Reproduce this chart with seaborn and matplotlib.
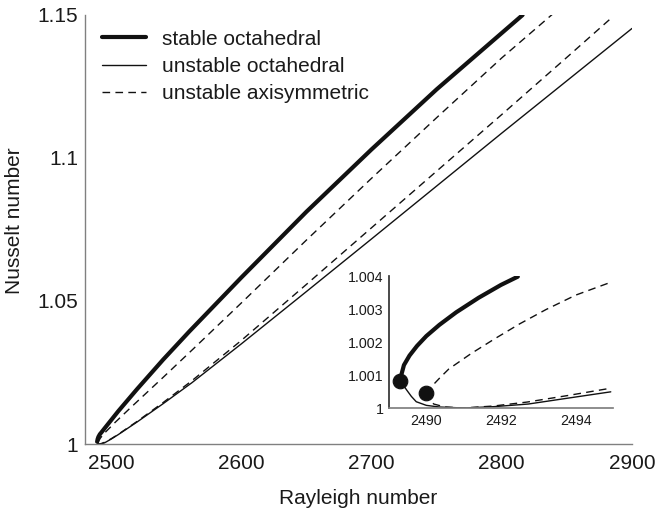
import matplotlib
matplotlib.use("Agg")
import matplotlib.pyplot as plt
import seaborn as sns
import numpy as np

sns.set_theme(style="white")
plt.rcParams['font.family'] = ['Liberation Sans', 'DejaVu Sans']

# ---- main plot data ----
stable_oct_ra = [2489.3, 2489.7, 2490.3, 2491.4, 2492.5, 2495, 2500, 2505.6, 2520, 2540, 2560, 2600, 2650, 2700, 2750, 2816]
stable_oct_nu = [1.0008, 1.0017, 1.0025, 1.0034, 1.0040, 1.00545, 1.0083, 1.0115, 1.0192, 1.0295, 1.0393, 1.0582, 1.0812, 1.1030, 1.1240, 1.1500]

unst_oct_ra = [2489.3, 2489.7, 2490.3, 2491, 2492.7, 2495, 2500, 2505.6, 2520, 2540, 2562, 2600, 2650, 2700, 2750, 2800, 2850, 2900]
unst_oct_nu = [1.0008, 1.0002, 1.00004, 1.0000, 1.00012, 1.0004, 1.0017, 1.0033, 1.0077, 1.0141, 1.0214, 1.0350, 1.0533, 1.0717, 1.0902, 1.1087, 1.1270, 1.1453]

axi_up_ra = [2490.0, 2490.35, 2491.85, 2494.94, 2503, 2515, 2540, 2563, 2600, 2650, 2700, 2750, 2800, 2839]
axi_up_nu = [1.00046, 1.0009, 1.0021, 1.0038, 1.0075, 1.0127, 1.0233, 1.0332, 1.0493, 1.0713, 1.0929, 1.1141, 1.1350, 1.1503]

axi_lo_ra = [2490.0, 2490.5, 2491.0, 2492.7, 2495, 2500, 2505.6, 2520, 2540, 2562, 2600, 2650, 2700, 2750, 2800, 2850, 2883]
axi_lo_nu = [1.00046, 1.00003, 1.0000, 1.00018, 1.0006, 1.0018, 1.0034, 1.0079, 1.0145, 1.0221, 1.0362, 1.0558, 1.0756, 1.0954, 1.1152, 1.1352, 1.1485]

# ---- inset data ----
in_stable_ra = [2489.29, 2489.4, 2489.55, 2489.75, 2490.0, 2490.35, 2490.8, 2491.4, 2492.0, 2492.45]
in_stable_nu = [1.00083, 1.00130, 1.00159, 1.00188, 1.00218, 1.00252, 1.00290, 1.00334, 1.00373, 1.00398]

in_unst_ra = [2489.29, 2489.38, 2489.47, 2489.6, 2489.73, 2490.0, 2490.35, 2491.0, 2491.8, 2492.73, 2493.8, 2494.94]
in_unst_nu = [1.00083, 1.00070, 1.00055, 1.00035, 1.00019, 1.00008, 1.00003, 1.00000, 1.00004, 1.00012, 1.00030, 1.00049]

in_axi_up_ra = [2489.98, 2490.35, 2490.6, 2491.2, 2491.85, 2492.5, 2493.2, 2494.0, 2494.94]
in_axi_up_nu = [1.00046, 1.00090, 1.00118, 1.00165, 1.00211, 1.00255, 1.00298, 1.00342, 1.00381]

in_axi_lo_ra = [2489.98, 2490.08, 2490.2, 2490.5, 2491.0, 2491.8, 2492.7, 2493.8, 2494.94]
in_axi_lo_nu = [1.00046, 1.00025, 1.00012, 1.00003, 1.00000, 1.00006, 1.00018, 1.00038, 1.00060]

dot_ra = [2489.29, 2489.98]
dot_nu = [1.00083, 1.00046]

labels = ["stable octahedral", "unstable octahedral", "unstable axisymmetric"]
x_ticks = [2500, 2600, 2700, 2800, 2900]
y_ticks = [1, 1.05, 1.1, 1.15]
y_ticklabels = ["1", "1.05", "1.1", "1.15"]
in_x_ticks = [2490, 2492, 2494]
in_y_ticks = [1, 1.001, 1.002, 1.003, 1.004]
in_y_ticklabels = ["1", "1.001", "1.002", "1.003", "1.004"]

W, H = 655, 515
fig = plt.figure(figsize=(W / 100, H / 100), dpi=100)
ax = fig.add_axes([85 / W, 1 - 444 / H, (632 - 85) / W, (444 - 15) / H])

dash = (5.5, 3.8)
k = "#111111"
txt = "#1a1a1a"
sns.lineplot(x=stable_oct_ra, y=stable_oct_nu, ax=ax, color=k, lw=3.0, sort=False, estimator=None, label=labels[0])
sns.lineplot(x=unst_oct_ra, y=unst_oct_nu, ax=ax, color=k, lw=1.0, sort=False, estimator=None, label=labels[1])
sns.lineplot(x=axi_up_ra, y=axi_up_nu, ax=ax, color=k, lw=1.0, sort=False, estimator=None, label=labels[2])
sns.lineplot(x=axi_lo_ra, y=axi_lo_nu, ax=ax, color=k, lw=1.0, sort=False, estimator=None)
for ln in ax.lines[2:4]:
    ln.set_dashes(dash)

ax.set_xlim(2480, 2900)
ax.set_ylim(1, 1.15)
ax.set_xticks(x_ticks)
ax.set_yticks(y_ticks)
ax.set_yticklabels(y_ticklabels)
for s in ["top", "right"]:
    ax.spines[s].set_visible(False)
for s in ["left", "bottom"]:
    ax.spines[s].set_color("#808080")
    ax.spines[s].set_linewidth(1.0)
ax.tick_params(direction="in", length=4, width=1, color="#808080", labelsize=15, labelcolor=txt)
ax.tick_params(axis="y", pad=5)
ax.tick_params(axis="x", pad=7)
ax.set_xlabel("Rayleigh number", fontsize=15, color=txt, labelpad=12)
ax.set_ylabel("Nusselt number", fontsize=15, color=txt)
ax.yaxis.set_label_coords(-0.112, 0.52)

h, l = ax.get_legend_handles_labels()
h[2].set_dashes(dash)
leg = ax.legend(h, l, loc="upper left", bbox_to_anchor=(0.009, 0.995), frameon=False, fontsize=15,
                handlelength=2.1, handletextpad=0.75, labelspacing=0.4, borderaxespad=0.2)
for t in leg.get_texts():
    t.set_color(txt)

# ---- inset ----
ins = fig.add_axes([389 / W, 1 - 408 / H, (613 - 389) / W, (408 - 276) / H])
sns.lineplot(x=in_stable_ra, y=in_stable_nu, ax=ins, color=k, lw=3.0, sort=False, estimator=None)
sns.lineplot(x=in_unst_ra, y=in_unst_nu, ax=ins, color=k, lw=1.0, sort=False, estimator=None)
sns.lineplot(x=in_axi_up_ra, y=in_axi_up_nu, ax=ins, color=k, lw=1.0, sort=False, estimator=None)
sns.lineplot(x=in_axi_lo_ra, y=in_axi_lo_nu, ax=ins, color=k, lw=1.0, sort=False, estimator=None)
for ln in ins.lines[2:4]:
    ln.set_dashes(dash)
sns.scatterplot(x=dot_ra, y=dot_nu, ax=ins, color=k, s=110, edgecolor=k, zorder=5, clip_on=False)
ins.set_xlim(2489, 2495)
ins.set_ylim(1, 1.004)
ins.set_xticks(in_x_ticks)
ins.set_yticks(in_y_ticks)
ins.set_yticklabels(in_y_ticklabels)
for s in ["top", "right"]:
    ins.spines[s].set_visible(False)
ins.spines["left"].set_color("#333333")
ins.spines["bottom"].set_color("#808080")
ins.tick_params(direction="in", length=3, width=0.8, color="#555555", labelsize=10.3, labelcolor=txt, pad=4)
ins.patch.set_alpha(0)

fig.savefig("out.png", dpi=100)
